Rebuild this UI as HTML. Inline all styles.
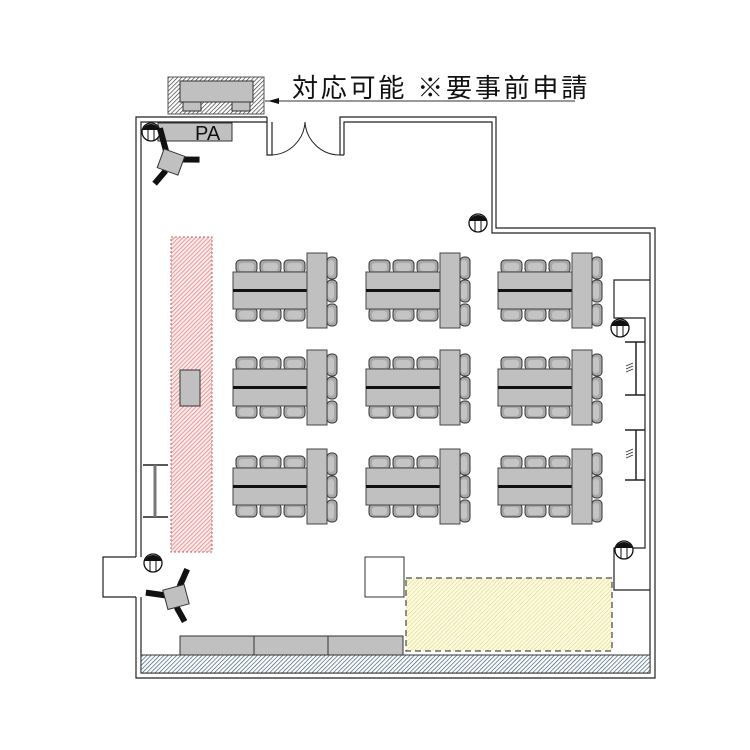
<!DOCTYPE html>
<html><head><meta charset="utf-8"><style>
html,body{margin:0;padding:0;background:#fff;}
svg{display:block;}
</style></head><body>
<svg width="750" height="750" viewBox="0 0 750 750" xmlns="http://www.w3.org/2000/svg">
<defs>
<pattern id="hb" width="3" height="3" patternUnits="userSpaceOnUse" patternTransform="rotate(45)">
<rect width="3" height="3" fill="#fff"/><line x1="0" y1="0" x2="0" y2="3" stroke="#333" stroke-width="1.3"/></pattern>
<pattern id="hblue" width="3" height="3" patternUnits="userSpaceOnUse" patternTransform="rotate(45)">
<rect width="3" height="3" fill="#fff"/><line x1="0" y1="0" x2="0" y2="3" stroke="#2f5570" stroke-width="1.3"/></pattern>
<pattern id="hred" width="3" height="3" patternUnits="userSpaceOnUse" patternTransform="rotate(45)">
<rect width="3" height="3" fill="#fbeaea"/><line x1="0" y1="0" x2="0" y2="3" stroke="#d77" stroke-width="1.3"/></pattern>
<pattern id="hyel" width="3" height="3" patternUnits="userSpaceOnUse" patternTransform="rotate(45)">
<rect width="3" height="3" fill="#fdfbe0"/><line x1="0" y1="0" x2="0" y2="3" stroke="#e0d68a" stroke-width="1.2"/></pattern>
<g id="ch"><rect x="0" y="0" width="21" height="13" rx="4" fill="#a8a8a8" stroke="#333" stroke-width="1"/><rect x="3" y="3" width="15" height="8" rx="3" fill="#c4c4c4"/></g>
<g id="chr"><rect x="0" y="0" width="10" height="22" rx="4" fill="#a8a8a8" stroke="#333" stroke-width="1"/><rect x="1" y="3" width="6" height="16" rx="3" fill="#c4c4c4"/></g>
<g id="set">
<use href="#ch" x="3" y="7"/><use href="#ch" x="27" y="7"/><use href="#ch" x="51" y="7"/>
<use href="#ch" x="3" y="55"/><use href="#ch" x="27" y="55"/><use href="#ch" x="51" y="55"/>
<use href="#chr" x="94" y="4"/><use href="#chr" x="94" y="27"/><use href="#chr" x="94" y="51"/>
<rect x="0" y="19" width="75" height="37" fill="#c0c0c0" stroke="#444" stroke-width="1"/>
<rect x="0" y="36" width="75" height="3" fill="#111"/>
<rect x="74" y="0" width="20" height="75" fill="#c0c0c0" stroke="#444" stroke-width="1"/>
</g>
<g id="pil"><circle cx="0" cy="0" r="9" fill="#fff" stroke="#111" stroke-width="1.3"/><path d="M-8.5,-2 A9,9 0 0 1 8.5,-2 Z" fill="#111"/><line x1="-3" y1="-2" x2="-3" y2="9" stroke="#111"/><line x1="3" y1="-2" x2="3" y2="9" stroke="#111"/></g>
</defs>

<rect x="168" y="77" width="96" height="37" fill="url(#hb)" stroke="#555" stroke-width="1"/>
<rect x="180" y="81" width="73" height="21" fill="#c0c0c0" stroke="#333"/>
<rect x="183" y="102" width="18" height="9" fill="#c0c0c0" stroke="#333"/>
<rect x="232" y="102" width="18" height="9" fill="#c0c0c0" stroke="#333"/>
<line x1="265" y1="101" x2="575" y2="101" stroke="#333" stroke-width="1"/>
<polygon points="268,101 279,98 279,104" fill="#111"/>
<text x="292" y="97" font-family="Liberation Sans, Noto Sans CJK JP, sans-serif" font-size="26" letter-spacing="2.8" fill="#111">対応可能 ※要事前申請</text>

<g fill="none" stroke="#222" stroke-width="1.2">
<path d="M267,117 H136 V557 M136,597 V678 H655 V228 H496 V117 H340 V155"/>
<path d="M267,122 H141 V557 M141,597 V673 H650 V233 H492 V122 H344 V155"/>
<path d="M267,117 V155 H272 V122"/>
<path d="M340,155 H344"/>
<path d="M136,557 H103 V597 H136"/>
<path d="M650,280 H614 V318 H645 V548 H614 V590 H650"/>
</g>
<path d="M272,155 A35,35 0 0 0 305,122" fill="none" stroke="#222"/>
<path d="M340,155 A35,35 0 0 1 305,122" fill="none" stroke="#222"/>

<rect x="158" y="123" width="74" height="18" fill="#c0c0c0" stroke="#333"/>
<text x="195" y="140" font-family="Liberation Sans, sans-serif" font-size="20" fill="#111">PA</text>
<use href="#pil" x="151" y="132"/>
<g transform="translate(171,162) rotate(20)">
<path d="M-8,-8 L-22,-28" stroke="#111" stroke-width="6"/>
<path d="M9,-6 L26,-12" stroke="#111" stroke-width="6"/>
<path d="M-2,10 L-8,26" stroke="#111" stroke-width="6"/>
<rect x="-11" y="-10" width="22" height="20" fill="#c0c0c0" stroke="#333"/>
</g>
<use href="#pil" x="478" y="223"/>
<use href="#pil" x="620" y="328"/>
<use href="#pil" x="624" y="550"/>
<use href="#pil" x="153" y="563"/>
<g transform="translate(176,597) rotate(-15)">
<path d="M-9,-4 L-28,-12" stroke="#111" stroke-width="6"/>
<path d="M6,-9 L18,-24" stroke="#111" stroke-width="6"/>
<path d="M-2,10 L2,26" stroke="#111" stroke-width="6"/>
<rect x="-11" y="-10" width="22" height="20" fill="#c0c0c0" stroke="#333"/>
</g>

<rect x="171" y="237" width="41" height="315" fill="url(#hred)" stroke="#c06060" stroke-dasharray="2,2"/>
<rect x="180" y="370" width="20" height="36" fill="#c0c0c0" stroke="#333"/>
<g stroke="#222" stroke-width="1.5"><line x1="143" y1="465" x2="168" y2="465"/><line x1="143" y1="517" x2="168" y2="517"/></g>
<line x1="155" y1="465" x2="155" y2="517" stroke="#777" stroke-width="3"/>
<g stroke="#222" stroke-width="1.5">
<line x1="625" y1="342" x2="645" y2="342"/><line x1="625" y1="395" x2="645" y2="395"/><line x1="636" y1="342" x2="636" y2="395"/>
<line x1="625" y1="430" x2="645" y2="430"/><line x1="625" y1="480" x2="645" y2="480"/><line x1="636" y1="430" x2="636" y2="480"/>
</g>
<g stroke="#333" stroke-width="0.9"><path d="M626,366 l7,-3 M626,369 l7,-3 M626,372 l7,-3 M626,452 l7,-3 M626,455 l7,-3 M626,458 l7,-3"/></g>

<use href="#set" x="233" y="253"/><use href="#set" x="366" y="253"/><use href="#set" x="498" y="253"/>
<use href="#set" x="233" y="350"/><use href="#set" x="366" y="350"/><use href="#set" x="498" y="350"/>
<use href="#set" x="233" y="449"/><use href="#set" x="366" y="449"/><use href="#set" x="498" y="449"/>

<rect x="365" y="557" width="39" height="40" fill="#fff" stroke="#333"/>
<rect x="406" y="578" width="206" height="73" fill="url(#hyel)" stroke="#222" stroke-dasharray="6,4"/>
<rect x="180" y="636" width="223" height="19" fill="#c0c0c0" stroke="#333"/>
<line x1="254" y1="636" x2="254" y2="655" stroke="#333"/><line x1="328" y1="636" x2="328" y2="655" stroke="#333"/>
<rect x="141" y="655" width="509" height="18" fill="url(#hblue)" stroke="#333"/>
</svg>
</body></html>
